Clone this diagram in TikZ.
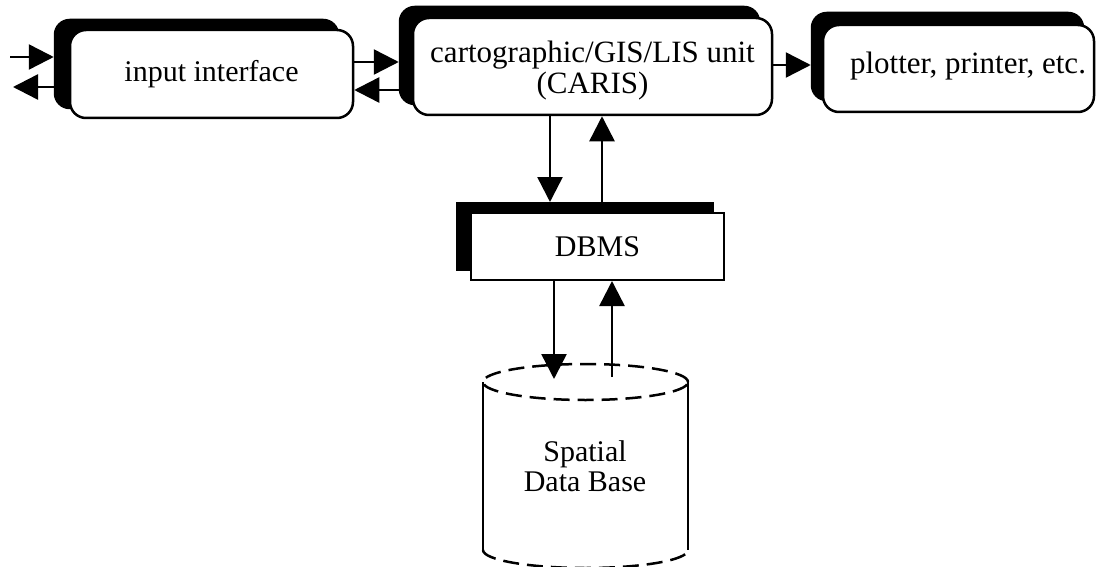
\documentclass[tikz,border=0pt]{standalone}
\usepackage{fontspec}
\setmainfont{Liberation Serif}
\usetikzlibrary{arrows.meta,backgrounds,calc}
\begin{document}
\begin{tikzpicture}[x=1pt,y=-1pt,
  unit/.style={draw=black, line width=2.5pt, fill=white, rounded corners=16pt,
    align=center, inner sep=0pt, font=\fontsize{30}{30}\selectfont},
  dbbox/.style={draw=black, line width=2pt, fill=white, inner sep=0pt,
    font=\fontsize{30}{30}\selectfont},
  caption/.style={align=center, inner sep=0pt, font=\fontsize{31}{31}\selectfont},
  flow/.style={line width=2.5pt, -{Triangle[length=25pt,width=25pt]}},
  cast/.style={fill=black, rounded corners=16pt},
  dashline/.style={line width=2.5pt, dash pattern=on 16pt off 8pt},
  plain/.style={line width=2.5pt}
]
\useasboundingbox (0,0) rectangle (1097,567);

% processing units
\node[unit, minimum width=283pt, minimum height=88pt] (inp) at (211.5,74) {input interface};
\node[unit, minimum width=359pt, minimum height=97pt] (caris) at (592.5,66.5) {};
\node[caption] (carisText) at (592.5,70.5) {cartographic/GIS/LIS unit\\(CARIS)};
\node[unit, minimum width=271pt, minimum height=87pt] (plot) at (958.5,68.5) {};
\node[caption] (plotText) at (968,66) {plotter, printer, etc.};
\node[dbbox, minimum width=253pt, minimum height=67pt] (dbms) at (597.5,246.5) {DBMS};

% heavy offset shadows behind the boxes
\begin{scope}[on background layer]
  \fill[white] (0,0) rectangle (1097,567);
  \fill[cast] ($(inp.north west)+(-15,-10)$) rectangle ($(inp.south east)+(-15,-10)$);
  \fill[cast] ($(caris.north west)+(-13,-11)$) rectangle ($(caris.south east)+(-13,-11)$);
  \fill[cast] ($(plot.north west)+(-11,-12)$) rectangle ($(plot.south east)+(-11,-12)$);
  \fill[black] ($(dbms.north west)+(-14,-10)$) rectangle ($(dbms.south east)+(-11,-10)$);
\end{scope}

% spatial data base cylinder
\coordinate (cyltop) at (585.5,382);
\coordinate (cylbot) at (585.5,550);
\fill[white] (483,382) rectangle (688,550);
\draw[dashline] (cyltop) ellipse [x radius=102.5pt, y radius=18pt];
\draw[plain] (483,382) -- (483,550);
\draw[plain] (688,382) -- (688,550);
\draw[dashline] (483,550) arc[start angle=180, end angle=360, x radius=102.5pt, y radius=18pt];
\node[align=center, inner sep=0pt, font=\fontsize{30}{30}\selectfont] (sdb) at (585,466)
  {Spatial\\Data Base};

% free ends and levels for the connectors
\coordinate (inEnd) at (10,57);
\coordinate (outEnd) at (13,87);
\coordinate (lvA) at (0,62);
\coordinate (lvB) at (0,90);
\coordinate (lvC) at (0,65);
\coordinate (colA) at (550,0);
\coordinate (colB) at (602,0);
\coordinate (colC) at (554,0);
\coordinate (colD) at (612,0);
\coordinate (dbIn) at (554,379);
\coordinate (dbOut) at (612,377);

% data flow
\draw[flow] (inEnd) -- ([xshift=-15pt]inEnd -| inp.west);
\draw[flow] ([xshift=-15pt]outEnd -| inp.west) -- (outEnd);
\draw[flow] (lvA -| inp.east) -- ([xshift=-13pt]lvA -| caris.west);
\draw[flow] ([xshift=-13pt]lvB -| caris.west) -- (lvB -| inp.east);
\draw[flow] (lvC -| caris.east) -- ([xshift=-11pt]lvC -| plot.west);
\draw[flow] (colA |- caris.south) -- ([yshift=10pt]colA |- dbms.north);
\draw[flow] ([yshift=10pt]colB |- dbms.north) -- (colB |- caris.south);
\draw[flow] (colC |- dbms.south) -- (dbIn);
\draw[flow] (dbOut) -- (colD |- dbms.south);
\end{tikzpicture}
\end{document}
